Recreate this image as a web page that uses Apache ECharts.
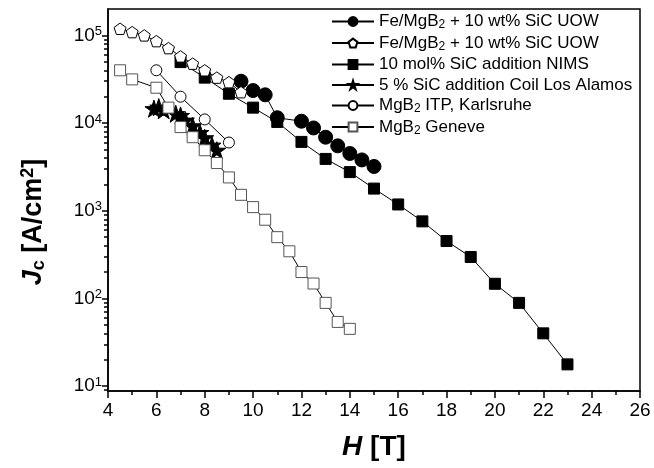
<!DOCTYPE html>
<html>
<head>
<meta charset="utf-8">
<script src="https://cdn.jsdelivr.net/npm/echarts@6/dist/echarts.min.js"></script>
<style>html,body{margin:0;padding:0;background:#fff}#c{width:654px;height:468px}</style>
</head>
<body>
<div id="c"></div>
<script>
// ---- data ----
var uowFilledX = [9.5, 10, 10.5, 11, 12, 12.5, 13, 13.5, 14, 14.5, 15];
var uowFilledY = [30000, 23500, 21000, 11500, 10500, 8800, 6900, 5500, 4500, 3800, 3200];
var uowOpenX = [4.5, 5, 5.5, 6, 6.5, 7, 7.5, 8, 8.5, 9, 9.5];
var uowOpenY = [119000, 109000, 100000, 86000, 71600, 57600, 47600, 40000, 33000, 29300, 22500];
var nimsX = [7, 8, 9, 10, 11, 12, 13, 14, 15, 16, 17, 18, 19, 20, 21, 22, 23];
var nimsY = [49600, 33000, 21600, 15000, 10300, 6100, 3900, 2760, 1790, 1180, 757, 452, 297, 147, 89, 40, 17.7];
var losAlamosX = [5.9, 6.1, 6.3, 6.8, 7.0, 7.2, 7.5, 7.8, 8.0, 8.3, 8.5];
var losAlamosY = [14600, 15200, 14000, 12800, 12200, 10800, 9300, 7800, 6800, 5600, 4900];
var karlsruheX = [6, 7, 8, 9];
var karlsruheY = [40000, 20000, 11000, 6000];
var geneveX = [4.5, 5, 6, 6.5, 7, 7.5, 8, 8.5, 9, 9.5, 10, 10.5, 11, 11.5, 12, 12.5, 13, 13.5, 14];
var geneveY = [40000, 31500, 25300, 15000, 9000, 6900, 4900, 3500, 2400, 1520, 1100, 790, 500, 345, 200, 148, 89, 54, 45];
var seriesNames = [
  'Fe/MgB{sub|2} + 10 wt% SiC UOW',
  'Fe/MgB{sub|2} + 10 wt% SiC UOW ',
  '10 mol% SiC addition NIMS',
  '5 % SiC addition Coil Los Alamos',
  'MgB{sub|2} ITP, Karlsruhe',
  'MgB{sub|2} Geneve'
];
var yMajorTicks = [10, 100, 1000, 10000, 100000];
var yMinorTicks = [];
[10, 100, 1000, 10000, 100000].forEach(function (d) {
  for (var k = 2; k <= 9; k++) { if (d * k < 2e5) yMinorTicks.push(d * k); }
});
yMinorTicks.push(9);

function pairs(xs, ys) { return xs.map(function (x, i) { return [x, ys[i]]; }); }

var FONT = '"Liberation Sans", Arial, sans-serif';
var pentagon = 'path://M50,0 L97.6,34.5 L79.4,90.5 L20.6,90.5 L2.4,34.5 Z';
var star = 'path://M50,0 L61.2,34.5 L97.6,34.5 L68.2,55.9 L79.4,90.5 L50,69.1 L20.6,90.5 L31.8,55.9 L2.4,34.5 L38.8,34.5 Z';

function mkSeries(name, data, symbol, size, fill, border, z) {
  return {
    name: name, type: 'line', data: data, symbol: symbol, symbolSize: size,
    symbolKeepAspect: true, z: z, yAxisIndex: 0,
    lineStyle: { color: '#000', width: 1 },
    itemStyle: { color: fill, borderColor: border, borderWidth: 1 },
    emphasis: { disabled: true }, animation: false
  };
}

var chart = echarts.init(document.getElementById('c'), null, { renderer: 'canvas' });
chart.setOption({
  animation: false,
  backgroundColor: '#fff',
  grid: { left: 108, right: 14, top: 9, bottom: 77, show: true, borderColor: '#000', borderWidth: 1.5, backgroundColor: 'transparent' },
  legend: {
    orient: 'vertical', left: 326, top: 8, itemWidth: 42, itemHeight: 11, itemGap: 3.5,
    selectedMode: false,
    data: seriesNames,
    formatter: function (n) { return n; },
    textStyle: {
      fontFamily: FONT, fontSize: 17, color: '#000',
      rich: { sub: { fontFamily: FONT, fontSize: 12, color: '#000', verticalAlign: 'bottom', padding: [7, 0, 0, 0] } }
    }
  },
  xAxis: {
    type: 'value', min: 4, max: 26, interval: 2,
    name: '{i|H} [T]', nameLocation: 'middle', nameGap: 42,
    nameTextStyle: { fontFamily: FONT, fontSize: 28, fontWeight: 'bold', color: '#000',
      rich: { i: { fontFamily: FONT, fontSize: 28, fontWeight: 'bold', fontStyle: 'italic', color: '#000' } } },
    axisLine: { lineStyle: { color: '#000', width: 1.5 } },
    axisTick: { length: 7, lineStyle: { color: '#000', width: 1.5 } },
    minorTick: { show: true, splitNumber: 2, length: 4, lineStyle: { color: '#000', width: 1.5 } },
    splitLine: { show: false }, minorSplitLine: { show: false },
    axisLabel: { fontFamily: FONT, fontSize: 19, color: '#000', margin: 10 }
  },
  yAxis: [{
    type: 'log', logBase: 10, min: 8.8, max: 200000, position: 'left',
    name: '{i|J}{sub|c} [A/cm{sup|2}]', nameLocation: 'middle', nameGap: 60, nameRotate: 90,
    nameTextStyle: { fontFamily: FONT, fontSize: 27, fontWeight: 'bold', color: '#000', padding: [0, 44, 0, 0],
      rich: {
        i: { fontFamily: FONT, fontSize: 27, fontWeight: 'bold', fontStyle: 'italic', color: '#000' },
        sub: { fontFamily: FONT, fontSize: 18, fontWeight: 'bold', color: '#000', verticalAlign: 'bottom', padding: [11, 0, 0, 0] },
        sup: { fontFamily: FONT, fontSize: 18, fontWeight: 'bold', color: '#000', verticalAlign: 'top', padding: [0, 0, 11, 0] }
      } },
    axisLine: { lineStyle: { color: '#000', width: 1.5 } },
    axisTick: { length: 6, customValues: yMajorTicks, lineStyle: { color: '#000', width: 1.5 } },
    splitLine: { show: false },
    axisLabel: {
      customValues: yMajorTicks, margin: 6,
      formatter: function (v) { return '10{sup|' + Math.round(Math.log10(v)) + '}'; },
      fontFamily: FONT, fontSize: 19, color: '#000',
      rich: { sup: { fontFamily: FONT, fontSize: 13, color: '#000', verticalAlign: 'top', padding: [0, 0, 8, 0] } }
    }
  }, {
    type: 'log', logBase: 10, min: 8.8, max: 200000, position: 'left',
    axisLine: { show: false },
    axisTick: { length: 4, customValues: yMinorTicks, lineStyle: { color: '#000', width: 1.5 } },
    axisLabel: { show: false },
    splitLine: { show: false }
  }],
  series: [
    mkSeries(seriesNames[2], pairs(nimsX, nimsY), 'rect', 11, '#000', '#000', 2),
    mkSeries(seriesNames[0], pairs(uowFilledX, uowFilledY), 'circle', 14, '#000', '#000', 3),
    mkSeries(seriesNames[1], pairs(uowOpenX, uowOpenY), pentagon, 12, '#fff', '#000', 4),
    mkSeries(seriesNames[3], pairs(losAlamosX, losAlamosY), star, 18, '#000', '#000', 5),
    mkSeries(seriesNames[4], pairs(karlsruheX, karlsruheY), 'circle', 11, '#fff', '#000', 6),
    mkSeries(seriesNames[5], pairs(geneveX, geneveY), 'rect', 11, '#fff', '#555', 7)
  ]
});
</script>
</body>
</html>
